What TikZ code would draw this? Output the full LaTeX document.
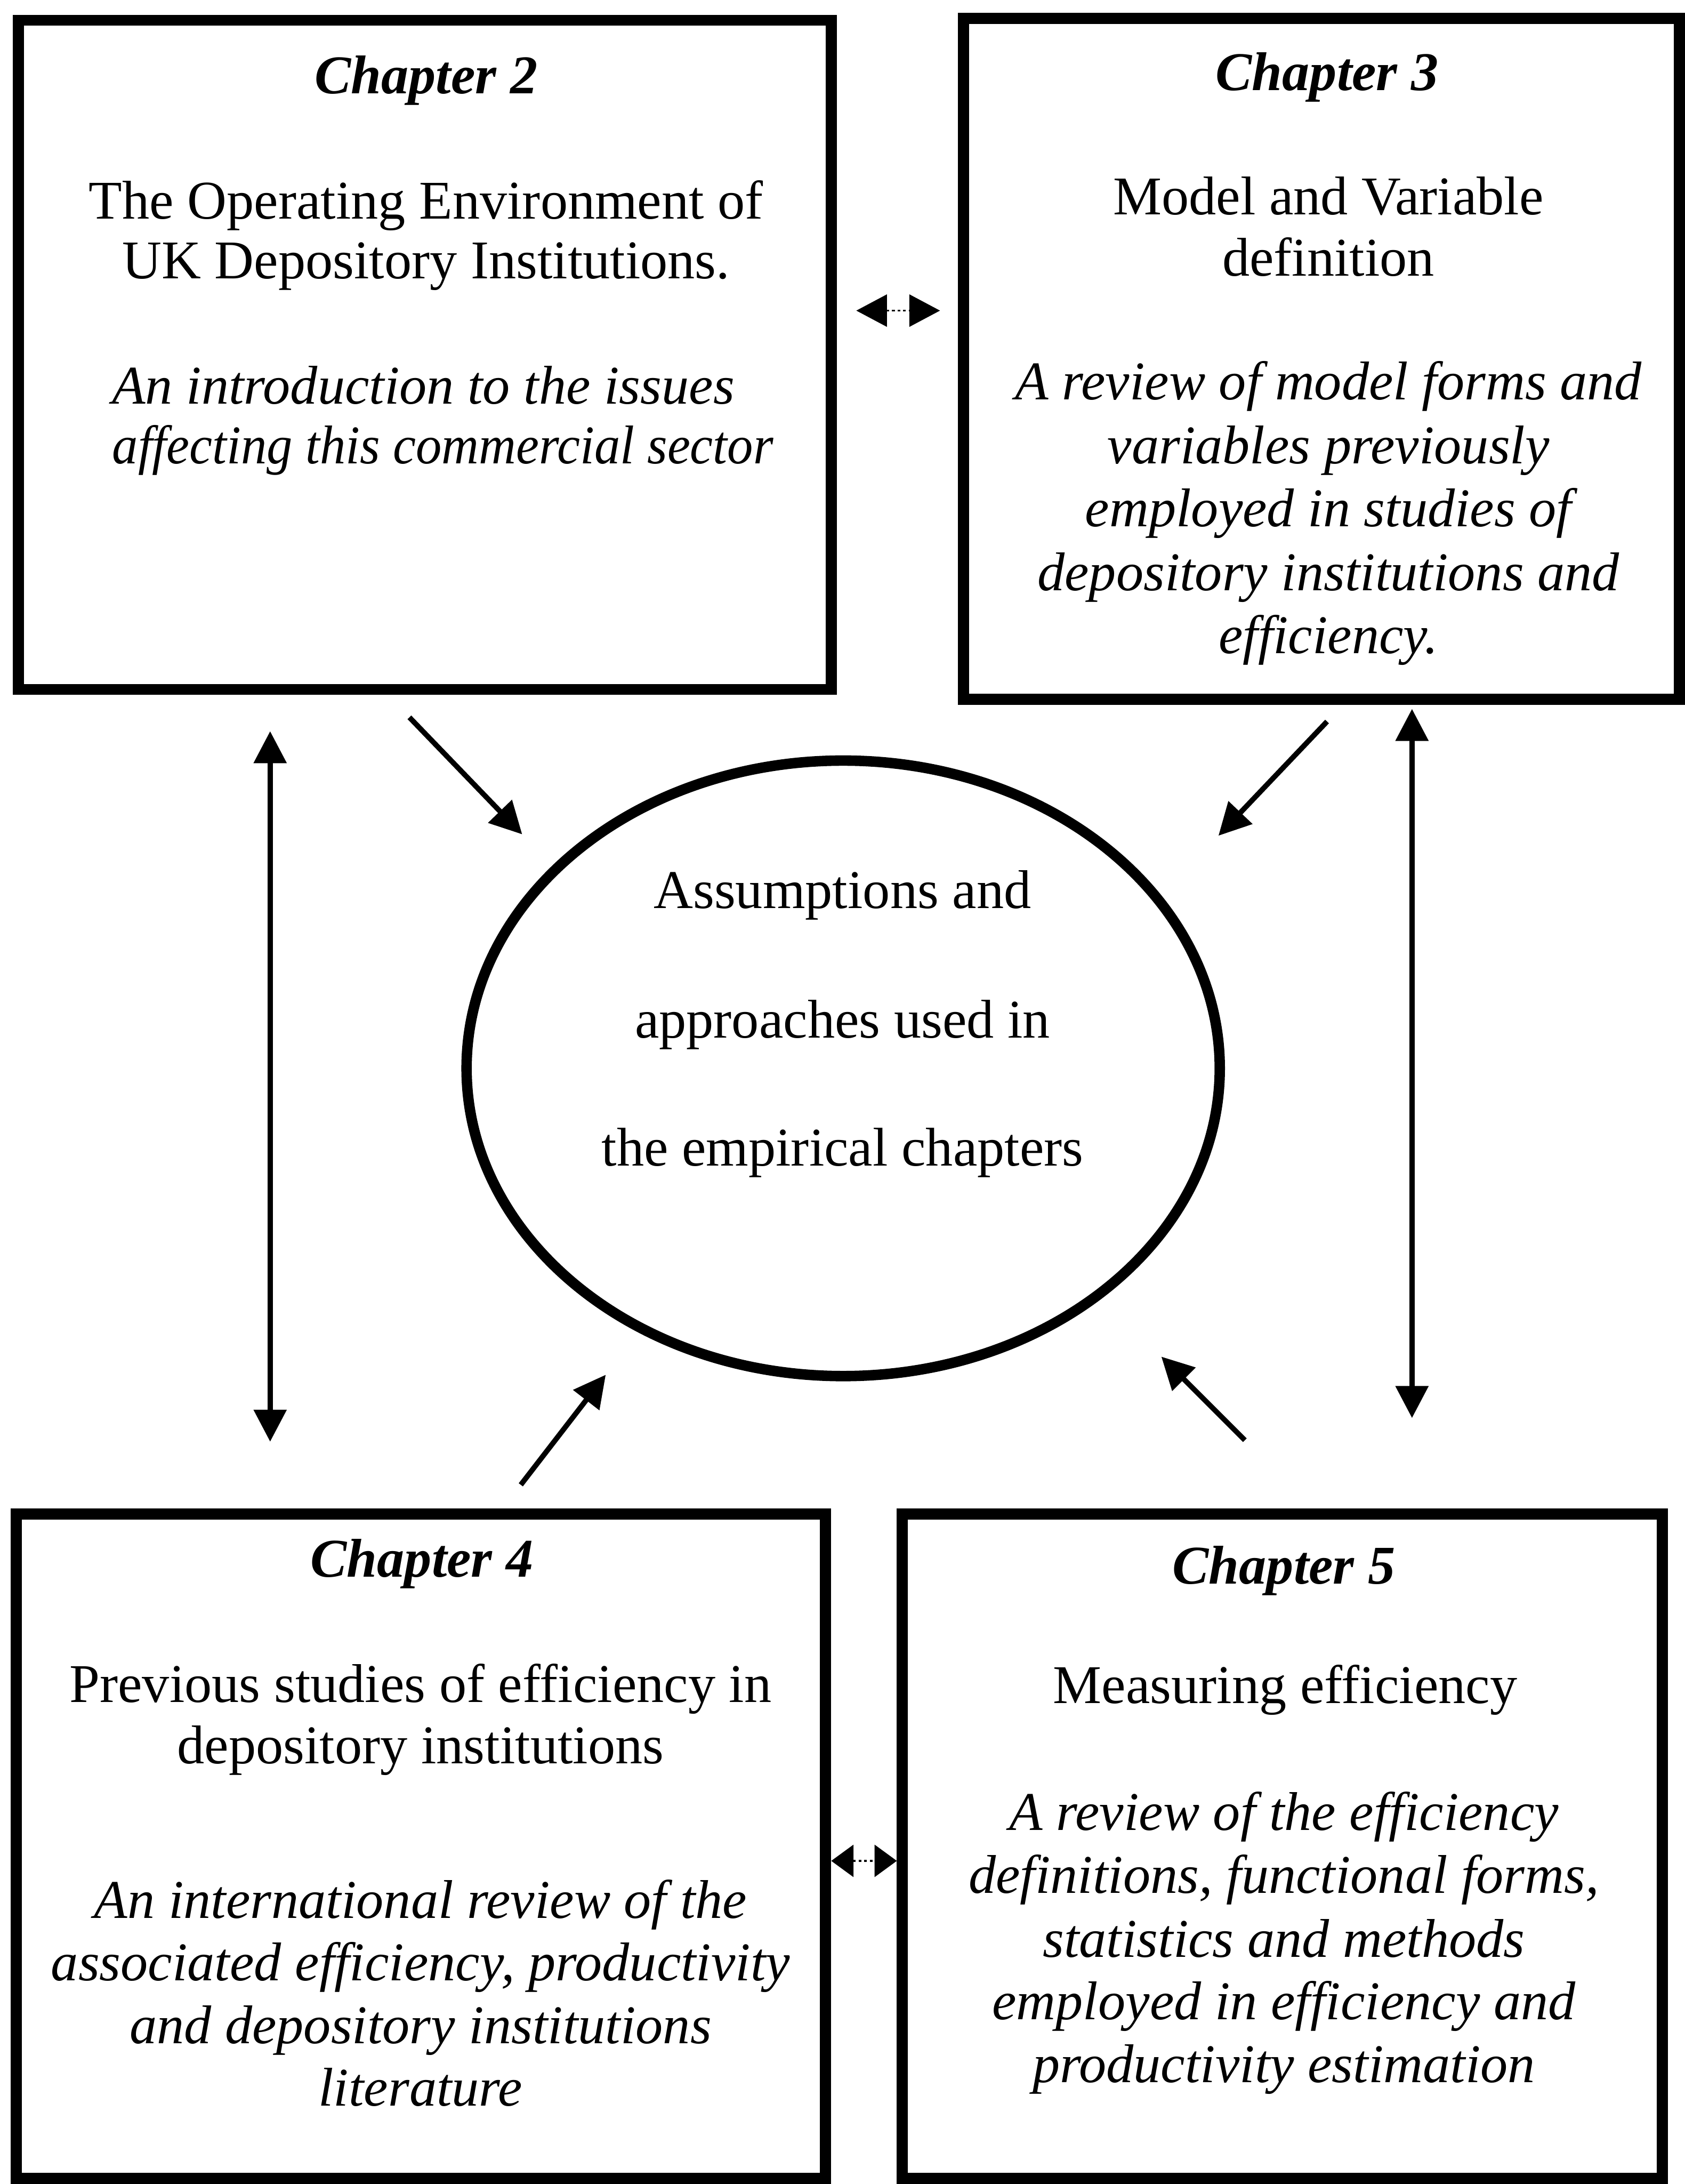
\documentclass[tikz,border=0pt]{standalone}
\usepackage{fontspec}
\setmainfont{Liberation Serif}
\usetikzlibrary{arrows.meta,shapes.geometric}
\begin{document}
\begin{tikzpicture}[x=0.02cm,y=-0.02cm,
  chbox/.style={draw, line width=0.16cm, inner sep=0pt},
  hub/.style={draw, ellipse, line width=0.15cm, inner sep=0pt},
  txt/.style={anchor=base, inner sep=0pt, font=\fontsize{22.3pt}{26pt}\selectfont},
  ttl/.style={txt, font=\fontsize{22.3pt}{26pt}\selectfont\bfseries\itshape},
  itx/.style={txt, font=\fontsize{22.3pt}{26pt}\selectfont\itshape},
  arr/.style={line width=0.075cm, -{Triangle[length=0.46cm,width=0.46cm]}},
  dblarr/.style={line width=0.075cm, {Triangle[length=0.46cm,width=0.46cm]}-{Triangle[length=0.46cm,width=0.46cm]}},
  dsharr/.style={line width=0.03cm, dash pattern=on 0.04cm off 0.04cm,
    {Triangle[length=0.44cm,width=0.46cm]}-{Triangle[length=0.44cm,width=0.46cm]}},
  dsharrs/.style={line width=0.03cm, dash pattern=on 0.04cm off 0.04cm,
    {Triangle[length=0.32cm,width=0.46cm]}-{Triangle[length=0.32cm,width=0.46cm]}}]
\useasboundingbox (0,0) rectangle (1210,1568);

% chapter boxes
\node[chbox, minimum width=11.68cm, minimum height=9.61cm] (c2) at (305,254.75) {};
\node[chbox, minimum width=10.28cm, minimum height=9.78cm] (c3) at (949,257.5) {};
\node[chbox, minimum width=11.63cm, minimum height=9.54cm] (c4) at (302.25,1325.5) {};
\node[chbox, minimum width=10.92cm, minimum height=9.54cm] (c5) at (921,1325.5) {};

% central ellipse
\node[hub, minimum width=10.82cm, minimum height=8.84cm] (hub) at (605.5,767) {};

% Chapter 2 text
\node[ttl] (c2a) at (306,67) {Chapter 2};
\node[txt] (c2b) at (306,157) {The Operating Environment of};
\node[txt] (c2c) at (306,200) {UK Depository Institutions.};
\node[itx] (c2d) at (304,290) {An introduction to the issues};
\node[itx, transform shape, xscale=0.945] (c2e) at (318,333) {affecting this commercial sector};

% Chapter 3 text
\node[ttl] (c3a) at (953,65) {Chapter 3};
\node[txt] (c3b) at (954,154) {Model and Variable};
\node[txt] (c3c) at (954,198) {definition};
\node[itx] (c3d) at (954,287) {A review of model forms and};
\node[itx] (c3e) at (954,333) {variables previously};
\node[itx] (c3f) at (954,378) {employed in studies of};
\node[itx] (c3g) at (954,424) {depository institutions and};
\node[itx] (c3h) at (954,469) {efficiency.};

% Chapter 4 text
\node[ttl] (c4a) at (303,1132) {Chapter 4};
\node[txt] (c4b) at (302,1222) {Previous studies of efficiency in};
\node[txt] (c4c) at (302,1266) {depository institutions};
\node[itx] (c4d) at (302,1377) {An international review of the};
\node[itx] (c4e) at (302,1422) {associated efficiency, productivity};
\node[itx] (c4f) at (302,1467) {and depository institutions};
\node[itx] (c4g) at (302,1512) {literature};

% Chapter 5 text
\node[ttl] (c5a) at (922,1137) {Chapter 5};
\node[txt] (c5b) at (923,1223) {Measuring efficiency};
\node[itx] (c5c) at (922,1314) {A review of the efficiency};
\node[itx] (c5d) at (922,1359) {definitions, functional forms,};
\node[itx] (c5e) at (922,1405) {statistics and methods};
\node[itx] (c5f) at (922,1450) {employed in efficiency and};
\node[itx] (c5g) at (922,1495) {productivity estimation};

% ellipse text
\node[txt] (h1) at (605,652) {Assumptions and};
\node[txt] (h2) at (605,745) {approaches used in};
\node[txt] (h3) at (605,837) {the empirical chapters};

% helper coordinates
\coordinate (dA) at (0,223);
\coordinate (dB) at (0,1336);
\coordinate (vL) at (194,0);
\coordinate (vR) at (1014,0);
\coordinate (a1s) at (294,515);   \coordinate (a1e) at (375,599);
\coordinate (a2s) at (953,518);   \coordinate (a2e) at (875,600);
\coordinate (a3s) at (374,1066);  \coordinate (a3e) at (435,987);
\coordinate (a4s) at (894,1034);  \coordinate (a4e) at (834,974);

% links between neighbouring chapters
\draw[dsharr, shorten <=0.28cm, shorten >=0.26cm] (c2.east |- dA) -- (c3.west |- dA);
\draw[dsharrs] (c4.east |- dB) -- (c5.west |- dB);
\draw[dblarr, shorten <=0.52cm, shorten >=0.96cm] (c2.south -| vL) -- (c4.north -| vL);
\draw[dblarr, shorten <=0.06cm, shorten >=1.3cm] (c3.south -| vR) -- (c5.north -| vR);

% arrows into the ellipse
\draw[arr] (a1s) -- (a1e);
\draw[arr] (a2s) -- (a2e);
\draw[arr] (a3s) -- (a3e);
\draw[arr] (a4s) -- (a4e);
\end{tikzpicture}
\end{document}
